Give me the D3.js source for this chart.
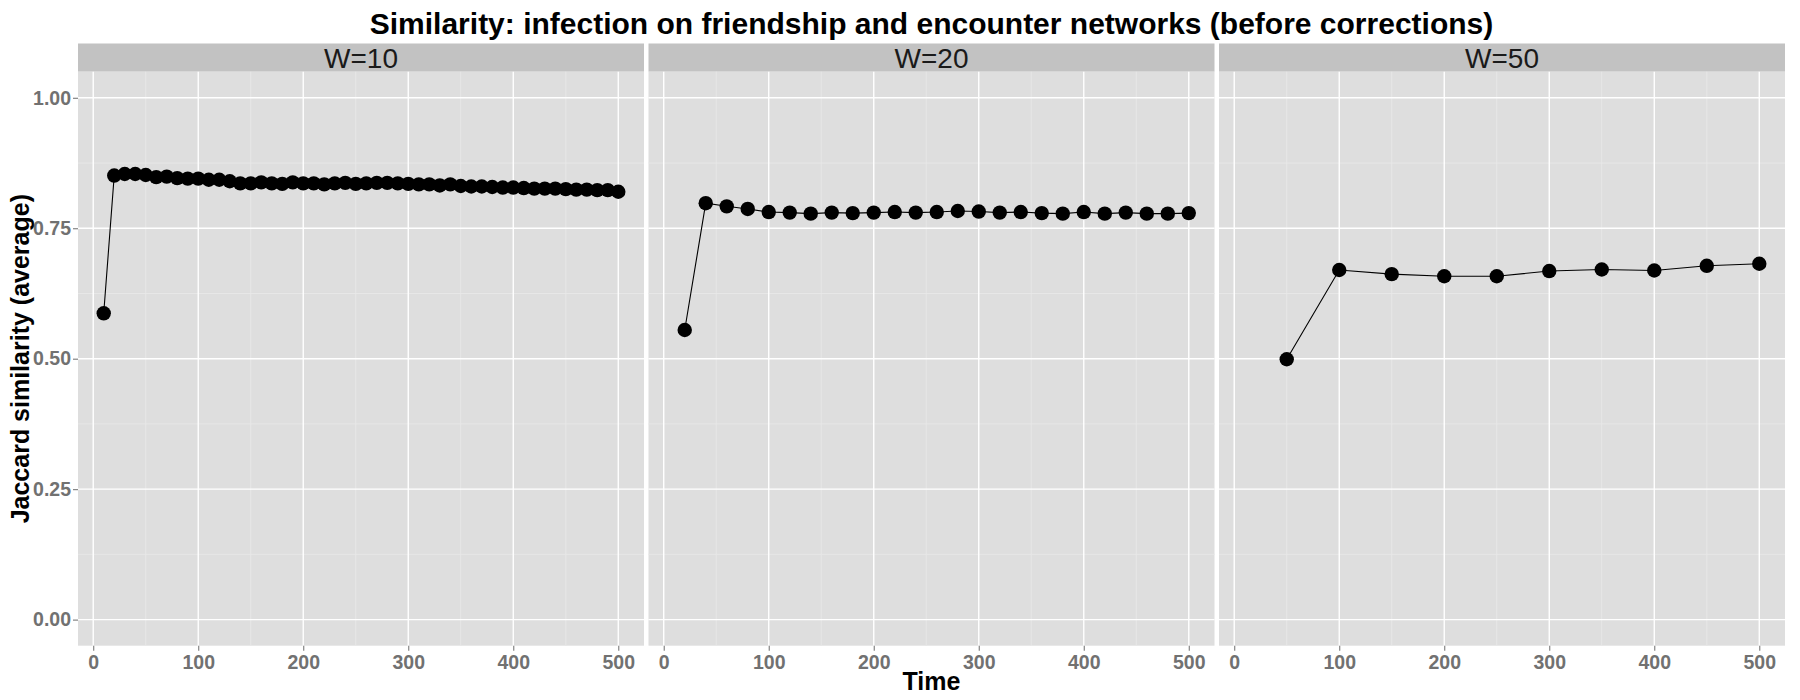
<!DOCTYPE html>
<html>
<head>
<meta charset="utf-8">
<script src="https://cdnjs.cloudflare.com/ajax/libs/d3/7.8.5/d3.min.js"></script>
<style>
  html, body { margin: 0; padding: 0; background: #fff; }
  svg { display: block; }
</style>
</head>
<body>
<div id="chart"></div>
<script>
// Data
// ---------------------------------------------------------------------------
var panelNames = ["W=10", "W=20", "W=50"];

var timeW10 = [10, 20, 30, 40, 50, 60, 70, 80, 90, 100,
  110, 120, 130, 140, 150, 160, 170, 180, 190, 200,
  210, 220, 230, 240, 250, 260, 270, 280, 290, 300,
  310, 320, 330, 340, 350, 360, 370, 380, 390, 400,
  410, 420, 430, 440, 450, 460, 470, 480, 490, 500];
var simW10 = [0.587, 0.851, 0.854, 0.854, 0.852, 0.848, 0.849, 0.846, 0.845, 0.845,
  0.843, 0.843, 0.840, 0.836, 0.836, 0.838, 0.836, 0.835, 0.838, 0.836,
  0.836, 0.834, 0.836, 0.837, 0.835, 0.836, 0.837, 0.837, 0.836, 0.835,
  0.834, 0.834, 0.832, 0.834, 0.831, 0.830, 0.830, 0.829, 0.828, 0.828,
  0.827, 0.826, 0.826, 0.826, 0.825, 0.824, 0.824, 0.823, 0.823, 0.820];

var timeW20 = [20, 40, 60, 80, 100, 120, 140, 160, 180, 200,
  220, 240, 260, 280, 300, 320, 340, 360, 380, 400,
  420, 440, 460, 480, 500];
var simW20 = [0.555, 0.798, 0.792, 0.787, 0.781, 0.780, 0.778, 0.780, 0.779, 0.780,
  0.781, 0.780, 0.781, 0.783, 0.782, 0.780, 0.781, 0.779, 0.778, 0.781,
  0.778, 0.780, 0.778, 0.778, 0.779];

var timeW50 = [50, 100, 150, 200, 250, 300, 350, 400, 450, 500];
var simW50 = [0.499, 0.670, 0.662, 0.658, 0.658, 0.668, 0.671, 0.669, 0.678, 0.682];

var xTicks = [0, 100, 200, 300, 400, 500];
var xMinor = [50, 150, 250, 350, 450];
var yTicks = [0, 0.25, 0.5, 0.75, 1];
var yTickLabels = ["0.00", "0.25", "0.50", "0.75", "1.00"];
var yMinor = [0.125, 0.375, 0.625, 0.875];

var titleText = "Similarity: infection on friendship and encounter networks (before corrections)";
var xTitle = "Time";
var yTitle = "Jaccard similarity (average)";

;(function() {
  "use strict";

  var
  chart = document.querySelector("#chart"),
  font = "'Liberation Sans', Arial, Helvetica, sans-serif"
  ;

  // Dimensions
  // ---------------------------------------------------------------------------
  var width = 1800, height = 700;
  var margin = { left: 78, top: 43.5, bottom: 54.3 };
  var stripH = 28.2;
  var panelW = 566, gap = 4.5;
  var panelTop = margin.top + stripH;
  var panelBottom = height - margin.bottom;

  var panels = [
    { name: panelNames[0], time: timeW10, sim: simW10 },
    { name: panelNames[1], time: timeW20, sim: simW20 },
    { name: panelNames[2], time: timeW50, sim: simW50 }
  ];

  var x = d3.scaleLinear().domain([-14.5, 524.5]).range([0, panelW]);
  var y = d3.scaleLinear().domain([-0.05, 1.05]).range([panelBottom, panelTop]);

  var svg = d3.select(chart).append("svg")
      .attr("width", width)
      .attr("height", height)
      .style("font-family", font);

  svg.append("rect")
    .attr("width", width)
    .attr("height", height)
    .attr("fill", "#ffffff");

  // Panels
  // ---------------------------------------------------------------------------
  panels.forEach(function(p, i) {
    var left = margin.left + i * (panelW + gap);
    var g = svg.append("g").attr("transform", "translate(" + left + ",0)");

    // strip
    g.append("rect")
      .attr("x", 0).attr("y", margin.top)
      .attr("width", panelW).attr("height", stripH)
      .attr("fill", "#c2c2c2");

    g.append("text")
      .attr("x", panelW / 2)
      .attr("y", margin.top + stripH / 2)
      .attr("dy", "0.36em")
      .attr("text-anchor", "middle")
      .attr("font-size", 28)
      .attr("fill", "#1a1a1a")
      .text(p.name);

    // background
    g.append("rect")
      .attr("x", 0).attr("y", panelTop)
      .attr("width", panelW).attr("height", panelBottom - panelTop)
      .attr("fill", "#dedede");

    // grid
    g.selectAll(".minor-x").data(xMinor).enter().append("line")
      .attr("x1", function(d) { return x(d); }).attr("x2", function(d) { return x(d); })
      .attr("y1", panelTop).attr("y2", panelBottom)
      .attr("stroke", "#e8e8e8").attr("stroke-width", 0.9);

    g.selectAll(".minor-y").data(yMinor).enter().append("line")
      .attr("x1", 0).attr("x2", panelW)
      .attr("y1", function(d) { return y(d); }).attr("y2", function(d) { return y(d); })
      .attr("stroke", "#e8e8e8").attr("stroke-width", 0.9);

    g.selectAll(".major-x").data(xTicks).enter().append("line")
      .attr("x1", function(d) { return x(d); }).attr("x2", function(d) { return x(d); })
      .attr("y1", panelTop).attr("y2", panelBottom)
      .attr("stroke", "#ffffff").attr("stroke-width", 1.4);

    g.selectAll(".major-y").data(yTicks).enter().append("line")
      .attr("x1", 0).attr("x2", panelW)
      .attr("y1", function(d) { return y(d); }).attr("y2", function(d) { return y(d); })
      .attr("stroke", "#ffffff").attr("stroke-width", 1.4);

    // x axis
    var xAxis = d3.axisBottom(x)
      .tickValues(xTicks)
      .tickSize(5)
      .tickPadding(4)
      .tickFormat(d3.format("d"));

    var ax = g.append("g")
      .attr("transform", "translate(0," + panelBottom + ")")
      .call(xAxis);
    ax.select(".domain").remove();
    ax.selectAll("line").attr("stroke", "#7a7a7a").attr("stroke-width", 1.1);
    ax.selectAll("text")
      .attr("fill", "#717171")
      .attr("font-size", 19.5)
      .attr("font-weight", "bold")
      .attr("font-family", font);

    // line + points
    var pts = p.time.map(function(t, k) { return [t, p.sim[k]]; });

    g.append("path")
      .datum(pts)
      .attr("fill", "none")
      .attr("stroke", "#000")
      .attr("stroke-width", 1.1)
      .attr("d", d3.line()
        .x(function(d) { return x(d[0]); })
        .y(function(d) { return y(d[1]); }));

    g.selectAll("circle").data(pts).enter().append("circle")
      .attr("cx", function(d) { return x(d[0]); })
      .attr("cy", function(d) { return y(d[1]); })
      .attr("r", 7.2)
      .attr("fill", "#000");
  });

  // Y axis (left panel only)
  // ---------------------------------------------------------------------------
  var yAxis = d3.axisLeft(y)
    .tickValues(yTicks)
    .tickSize(5)
    .tickPadding(2)
    .tickFormat(function(d, i) { return yTickLabels[i]; });

  var ay = svg.append("g")
    .attr("transform", "translate(" + margin.left + ",0)")
    .call(yAxis);
  ay.select(".domain").remove();
  ay.selectAll("line").attr("stroke", "#7a7a7a").attr("stroke-width", 1.1);
  ay.selectAll("text")
    .attr("fill", "#717171")
    .attr("font-size", 19.5)
    .attr("font-weight", "bold")
    .attr("font-family", font);

  // Titles
  // ---------------------------------------------------------------------------
  var plotCenter = margin.left + (3 * panelW + 2 * gap) / 2;

  svg.append("text")
    .attr("x", plotCenter)
    .attr("y", 34)
    .attr("text-anchor", "middle")
    .attr("font-size", 30)
    .attr("font-weight", "bold")
    .attr("fill", "#000")
    .text(titleText);

  svg.append("text")
    .attr("x", plotCenter)
    .attr("y", 690)
    .attr("text-anchor", "middle")
    .attr("font-size", 25)
    .attr("font-weight", "bold")
    .attr("fill", "#000")
    .text(xTitle);

  svg.append("text")
    .attr("transform", "translate(29," + ((panelTop + panelBottom) / 2) + ") rotate(-90)")
    .attr("text-anchor", "middle")
    .attr("font-size", 25)
    .attr("font-weight", "bold")
    .attr("fill", "#000")
    .text(yTitle);
})();
</script>
</body>
</html>
